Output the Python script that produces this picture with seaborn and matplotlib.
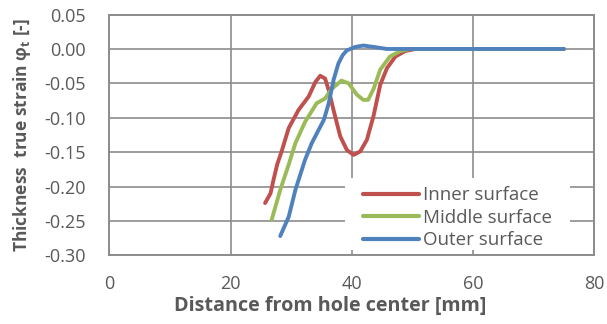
import matplotlib
matplotlib.use("Agg")
import matplotlib.pyplot as plt
from matplotlib.patches import Rectangle
import pandas as pd
import seaborn as sns

# Thickness true strain along the radial path from the hole centre
inner_x = [25.7, 26.6, 27.1, 27.7, 28.5, 29.6, 31.2, 32.9, 34.0, 34.8, 35.6, 36.2,
           37.0, 38.1, 39.2, 40.3, 41.4, 42.5, 43.6, 44.7, 45.8, 47.2, 48.8, 50.5,
           55.0, 60.0, 65.0, 70.0, 75.0]
inner_y = [-0.224, -0.210, -0.190, -0.168, -0.147, -0.115, -0.089, -0.069, -0.048,
           -0.039, -0.043, -0.060, -0.089, -0.127, -0.147, -0.154, -0.149, -0.132,
           -0.097, -0.052, -0.028, -0.011, -0.003, 0.0, 0.0, 0.0, 0.0, 0.0, 0.0]

middle_x = [26.8, 28.2, 29.6, 30.7, 32.3, 34.2, 35.6, 36.7, 38.3, 39.5, 40.8, 41.9,
            42.7, 43.6, 44.7, 46.3, 48.0, 49.6, 55.0, 60.0, 65.0, 70.0, 75.0]
middle_y = [-0.248, -0.205, -0.168, -0.137, -0.106, -0.079, -0.072, -0.058, -0.046,
            -0.050, -0.066, -0.074, -0.074, -0.058, -0.030, -0.011, -0.003, 0.0,
            0.0, 0.0, 0.0, 0.0, 0.0]

outer_x = [28.2, 29.6, 30.7, 32.3, 33.4, 35.4, 36.2, 37.0, 37.8, 38.5, 39.2, 40.6,
           41.9, 43.6, 45.8, 50.0, 55.0, 60.0, 65.0, 70.0, 75.0]
outer_y = [-0.272, -0.244, -0.205, -0.161, -0.137, -0.103, -0.079, -0.045, -0.021,
           -0.009, -0.002, 0.003, 0.005, 0.003, 0.0, 0.0, 0.0, 0.0, 0.0, 0.0, 0.0]

series_names = ["Inner surface", "Middle surface", "Outer surface"]
series_colors = ["#C0504D", "#9BBB59", "#4F81BD"]

x_ticks = [0, 20, 40, 60, 80]
y_ticks = [-0.30, -0.25, -0.20, -0.15, -0.10, -0.05, 0.00, 0.05]

frames = []
for name, xs, ys in zip(series_names, [inner_x, middle_x, outer_x],
                        [inner_y, middle_y, outer_y]):
    frames.append(pd.DataFrame({"distance": xs, "strain": ys, "surface": name}))
data = pd.concat(frames, ignore_index=True)

sns.set_theme(style="white")
plt.rcParams["font.family"] = ["Open Sans", "DejaVu Sans"]

fig = plt.figure(figsize=(6.07, 3.24), dpi=100)
ax = fig.add_axes([0.180, 0.212, 0.799, 0.743])

grid_color = "#8C8C8C"
text_color = "#595959"

sns.lineplot(data=data, x="distance", y="strain", hue="surface",
             hue_order=series_names, palette=series_colors, sort=False,
             estimator=None, linewidth=2.8, ax=ax, zorder=3,
             solid_joinstyle="round", solid_capstyle="round")

ax.set_xlim(0, 80)
ax.set_ylim(-0.30, 0.05)
ax.set_xticks(x_ticks)
ax.set_yticks(y_ticks)
ax.set_yticklabels([f"{v:.2f}" for v in y_ticks])
ax.grid(True, color=grid_color, linewidth=1.2, zorder=0)
for side in ["left", "bottom", "right", "top"]:
    ax.spines[side].set_visible(True)
    ax.spines[side].set_color(grid_color)
    ax.spines[side].set_linewidth(1.4)
ax.tick_params(axis="y", direction="out", length=6, width=1.2, color=grid_color,
               labelsize=13, labelcolor=text_color, pad=11)
ax.tick_params(axis="x", direction="out", length=0, labelsize=13,
               labelcolor=text_color, pad=14)

ax.set_xlabel("Distance from hole center [mm]", fontsize=14.2, fontweight="bold",
              color=text_color)
ax.xaxis.set_label_coords(0.456, -0.17)
ax.set_ylabel(r"Thickness  true strain φ$_\mathregular{t}$ [-]", fontsize=12.5,
              fontweight="bold", color=text_color, labelpad=8)

# White legend area hiding the gridlines behind the entries
ax.add_patch(Rectangle((0.487, 0.023), 0.464, 0.299, transform=ax.transAxes,
                       facecolor="white", edgecolor="none", zorder=1.5))

leg = ax.legend(loc="upper left", bbox_to_anchor=(0.524, 0.287), frameon=False,
                fontsize=13.5, handlelength=2.95, handletextpad=0.25,
                labelspacing=0.245, borderaxespad=0.0, borderpad=0.0)
leg.set_zorder(5)
for txt in leg.get_texts():
    txt.set_color(text_color)
for line in leg.get_lines():
    line.set_linewidth(3.0)

fig.savefig("out.png", dpi=100)
